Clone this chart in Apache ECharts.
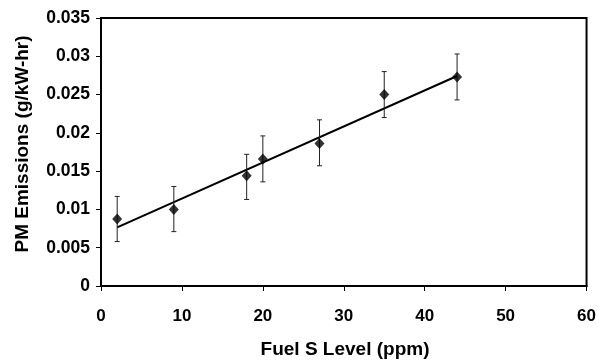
<!DOCTYPE html>
<html>
<head>
<meta charset="utf-8">
<script src="https://cdn.jsdelivr.net/npm/echarts@6/dist/echarts.min.js"></script>
<style>
html,body{margin:0;padding:0;background:#fff;}
#chart{width:599px;height:361px;}
</style>
</head>
<body>
<div id="chart"></div>
<script>
// Data
var sulfurPpm = [2, 9, 18, 20, 27, 35, 44];
var pmEmissions = [0.00875, 0.0100, 0.0144, 0.0166, 0.0186, 0.0250, 0.0273];
var errUpper = [0.0117, 0.0130, 0.0172, 0.0196, 0.0217, 0.0280, 0.0303];
var errLower = [0.0058, 0.0071, 0.0113, 0.0136, 0.0157, 0.0220, 0.0243];
var trendX = [2, 44];
var trendY = [0.00766, 0.02743];
var xTitle = 'Fuel S Level (ppm)';
var yTitle = 'PM Emissions (g/kW-hr)';

var FONT = '"Liberation Sans", Arial, Helvetica, sans-serif';

var points = sulfurPpm.map(function (x, i) { return [x, pmEmissions[i]]; });
var errData = sulfurPpm.map(function (x, i) { return [x, errLower[i], errUpper[i]]; });
var trendData = trendX.map(function (x, i) { return [x, trendY[i]]; });

var chart = echarts.init(document.getElementById('chart'), null, {renderer: 'canvas'});
chart.setOption({
  animation: false,
  backgroundColor: '#ffffff',
  grid: {left: 101, right: 10, top: 18, bottom: 75, show: true, borderColor: '#000', borderWidth: 2, containLabel: false},
  xAxis: {
    type: 'value', min: 0, max: 60, interval: 10,
    axisLine: {show: true, onZero: false, lineStyle: {color: '#000', width: 2}},
    axisTick: {show: true, inside: false, length: 5, lineStyle: {color: '#000', width: 1}},
    splitLine: {show: false},
    axisLabel: {margin: 22, color: '#000', fontFamily: FONT, fontWeight: 'bold', fontSize: 17}
  },
  yAxis: {
    type: 'value', min: 0, max: 0.035, interval: 0.005,
    axisLine: {show: true, onZero: false, lineStyle: {color: '#000', width: 2}},
    axisTick: {show: true, inside: false, length: 5, lineStyle: {color: '#000', width: 1}},
    splitLine: {show: false},
    axisLabel: {margin: 11, color: '#000', fontFamily: FONT, fontWeight: 'bold', fontSize: 17.5,
      formatter: function (v) { return String(parseFloat(v.toFixed(4))); }}
  },
  graphic: [
    {type: 'text', x: 345, y: 350, style: {text: xTitle, fill: '#000', font: 'bold 19px ' + FONT, textAlign: 'center', textVerticalAlign: 'middle'}},
    {type: 'text', x: 23, y: 144, rotation: Math.PI / 2, style: {text: yTitle, fill: '#000', font: 'bold 19px ' + FONT, textAlign: 'center', textVerticalAlign: 'middle'}}
  ],
  series: [
    {
      type: 'line', data: trendData, symbol: 'none', z: 2,
      lineStyle: {color: '#000', width: 2}
    },
    {
      type: 'custom', z: 3,
      renderItem: function (params, api) {
        var x = api.value(0);
        var lo = api.coord([x, api.value(1)]);
        var hi = api.coord([x, api.value(2)]);
        var cw = 2.5;
        var st = {stroke: '#222', lineWidth: 1};
        return {
          type: 'group',
          children: [
            {type: 'line', shape: {x1: lo[0], y1: lo[1], x2: hi[0], y2: hi[1]}, style: st},
            {type: 'line', shape: {x1: lo[0] - cw, y1: lo[1], x2: lo[0] + cw, y2: lo[1]}, style: st},
            {type: 'line', shape: {x1: hi[0] - cw, y1: hi[1], x2: hi[0] + cw, y2: hi[1]}, style: st}
          ]
        };
      },
      data: errData
    },
    {
      type: 'scatter', data: points, symbol: 'diamond', symbolSize: [10, 11], z: 4,
      itemStyle: {color: '#000'}
    }
  ]
});
</script>
</body>
</html>
